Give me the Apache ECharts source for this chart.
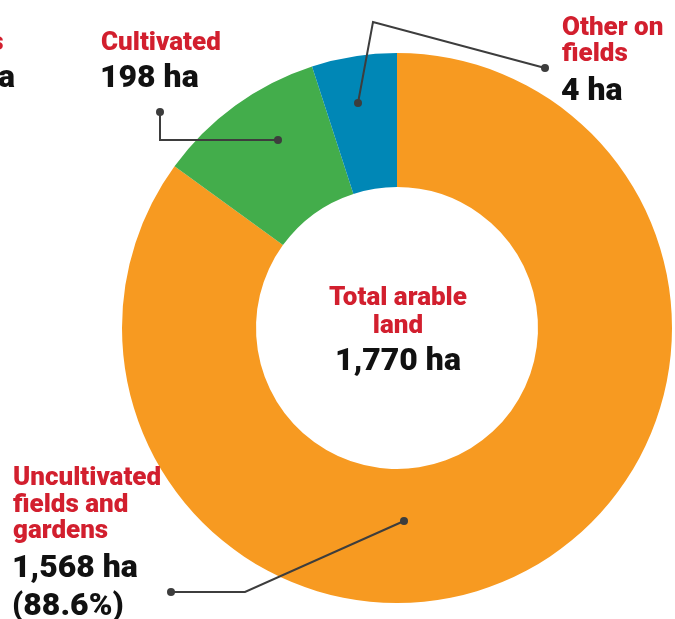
<!DOCTYPE html>
<html>
<head>
<meta charset="utf-8">
<script src="https://cdn.jsdelivr.net/npm/echarts@6/dist/echarts.min.js"></script>
<style>
html,body{margin:0;padding:0;background:#fff;}
#chart{width:675px;height:619px;}
</style>
</head>
<body>
<div id="chart"></div>
<script>
// Categories and values
var categories = ['Uncultivated fields and gardens', 'Cultivated', 'Other on fields'];
var labelNames = ['Uncultivated\nfields and\ngardens', 'Cultivated', 'Other on\nfields'];
var labelValues = ['1,568 ha\n(88.6%)', '198 ha', '4 ha'];
// Slice shares as drawn in the picture (percent of the ring)
var sliceShares = [85.0, 10.0, 5.0];
var sliceColors = ['#F79A21', '#43AD4B', '#0087B6'];
var centerTitle = 'Total arable\nland';
var centerValue = '1,770 ha';

var RED = '#D21F2E', BLACK = '#111111', LINE = '#3d3d3d';
var FONT = 'Roboto, "Noto Sans", sans-serif';

var chart = echarts.init(document.getElementById('chart'), null, {renderer: 'canvas'});

function txt(s, x, y, size, color, align, lh) {
  return {
    type: 'text', z: 10,
    style: {
      text: s, x: x, y: y, fill: color,
      font: '900 ' + size + 'px ' + FONT,
      align: align || 'left', verticalAlign: 'top',
      lineHeight: lh || Math.round(size * 1.1)
    }
  };
}
function poly(points) {
  return {type: 'polyline', z: 9, shape: {points: points}, style: {stroke: LINE, lineWidth: 2, fill: null}};
}
function dot(x, y) {
  return {type: 'circle', z: 9, shape: {cx: x, cy: y, r: 4}, style: {fill: LINE}};
}

var LS = 26, VS = 32;
var graphics = [
  // center
  txt(centerTitle, 398, 284, LS, RED, 'center', 28),
  txt(centerValue, 398, 344, VS, BLACK, 'center', 35),
  // Cultivated
  txt(labelNames[1], 101, 28.5, LS, RED, 'left', 29),
  txt(labelValues[1], 100, 61.5, VS, BLACK, 'left', 35),
  poly([[160, 112], [160, 140], [278, 140]]), dot(160, 112), dot(278, 140),
  // Other on fields
  txt(labelNames[2], 562, 15, LS, RED, 'left', 26),
  txt(labelValues[2], 561, 74.5, VS, BLACK, 'left', 35),
  poly([[358, 103], [373, 22], [545, 68]]), dot(358, 103), dot(545, 68),
  // Uncultivated
  txt(labelNames[0], 13, 465.5, LS, RED, 'left', 26.5),
  txt(labelValues[0], 12, 549.5, VS, BLACK, 'left', 38),
  poly([[404, 521], [245, 592], [171, 592]]), dot(404, 521), dot(171, 592),
  // cut-off label at left edge
  txt('s', 3.5, 28.5, LS, RED, 'right', 29),
  txt('a', 15, 61.5, VS, BLACK, 'right', 35)
];

chart.setOption({
  animation: false,
  backgroundColor: '#ffffff',
  series: [{
    type: 'pie',
    center: [397, 328],
    radius: [141, 275],
    startAngle: 90,
    clockwise: true,
    silent: true,
    label: {show: false},
    labelLine: {show: false},
    itemStyle: {borderWidth: 0},
    data: categories.map(function (c, i) {
      return {name: c, value: sliceShares[i], itemStyle: {color: sliceColors[i]}};
    })
  }],
  graphic: graphics
});
</script>
</body>
</html>
